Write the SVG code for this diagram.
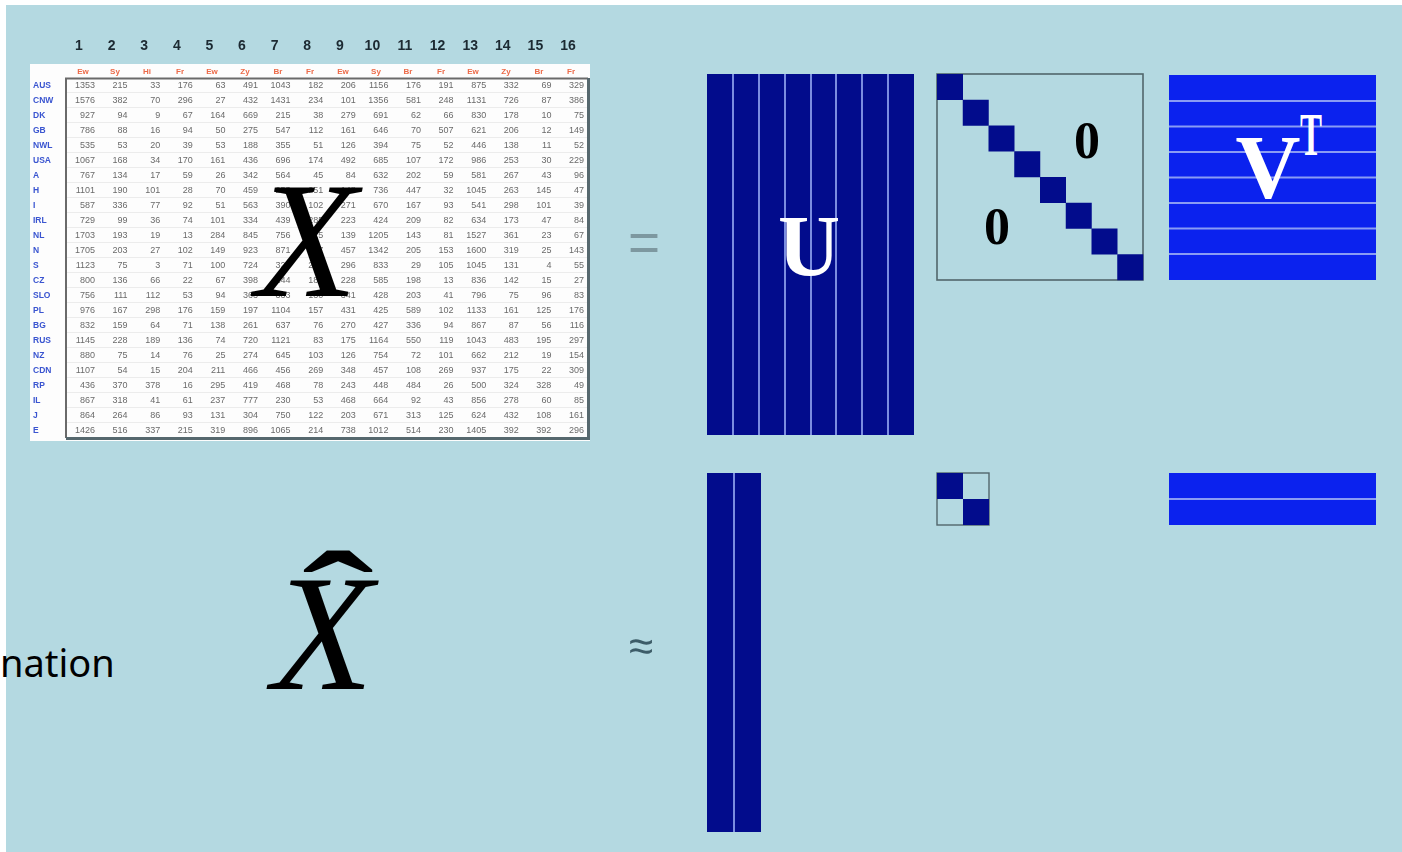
<svg xmlns="http://www.w3.org/2000/svg" width="1402" height="852" viewBox="0 0 1402 852">
<defs>
<filter id="soft" x="-5%" y="-5%" width="110%" height="110%"><feGaussianBlur stdDeviation="0.7"/></filter>
<filter id="soft2" x="-10%" y="-10%" width="120%" height="120%"><feGaussianBlur stdDeviation="0.7"/></filter>
</defs>
<style>
.d{font-family:"Liberation Sans",Arial,sans-serif;font-size:9px;fill:#6a6a6a;text-anchor:end}
.rl{font-family:"Liberation Sans",Arial,sans-serif;font-size:8.5px;font-weight:bold;fill:#3a55d0}
.hd{font-family:"Liberation Sans",Arial,sans-serif;font-size:8px;font-weight:bold;fill:#ec6a48;text-anchor:middle}
.cn{font-family:"Liberation Sans",Arial,sans-serif;font-size:14px;font-weight:bold;fill:#1c2a32;text-anchor:middle}
.big{font-family:"Liberation Serif","Times New Roman",serif;font-style:italic;font-size:166px;fill:#000}
.mat{font-family:"Liberation Serif","Times New Roman",serif;font-weight:bold;fill:#fff;text-anchor:middle}
.zero{font-family:"Liberation Serif","Times New Roman",serif;font-weight:bold;font-size:52px;fill:#000;text-anchor:middle}
.navy{fill:#020c8c}
.vblue{fill:#0b22ee}
.ul{stroke:#7b8de0;stroke-width:2}
.vl{stroke:#8a9cf4;stroke-width:2}
</style>
<rect x="0" y="0" width="1402" height="852" fill="#ffffff"/>
<rect x="6" y="5" width="1396" height="847" fill="#b4d9e1"/>

<g id="data-table">
<rect x="30" y="64" width="560" height="377" fill="#fdfdfd"/>
<g stroke="#ececec" stroke-width="1">
<line x1="66" y1="92.5" x2="587" y2="92.5"/><line x1="66" y1="107.5" x2="587" y2="107.5"/><line x1="66" y1="122.5" x2="587" y2="122.5"/><line x1="66" y1="137.5" x2="587" y2="137.5"/><line x1="66" y1="152.5" x2="587" y2="152.5"/><line x1="66" y1="167.5" x2="587" y2="167.5"/><line x1="66" y1="182.5" x2="587" y2="182.5"/><line x1="66" y1="197.5" x2="587" y2="197.5"/><line x1="66" y1="212.5" x2="587" y2="212.5"/><line x1="66" y1="227.5" x2="587" y2="227.5"/><line x1="66" y1="242.5" x2="587" y2="242.5"/><line x1="66" y1="257.5" x2="587" y2="257.5"/><line x1="66" y1="272.5" x2="587" y2="272.5"/><line x1="66" y1="287.5" x2="587" y2="287.5"/><line x1="66" y1="302.5" x2="587" y2="302.5"/><line x1="66" y1="317.5" x2="587" y2="317.5"/><line x1="66" y1="332.5" x2="587" y2="332.5"/><line x1="66" y1="347.5" x2="587" y2="347.5"/><line x1="66" y1="362.5" x2="587" y2="362.5"/><line x1="66" y1="377.5" x2="587" y2="377.5"/><line x1="66" y1="392.5" x2="587" y2="392.5"/><line x1="66" y1="407.5" x2="587" y2="407.5"/><line x1="66" y1="422.5" x2="587" y2="422.5"/>
</g>
<path d="M66 438 V78.5 H588" fill="none" stroke="#6a6a6a" stroke-width="2"/>
<path d="M588.5 78 V438.5 H66" fill="none" stroke="#56686e" stroke-width="3"/>
<g filter="url(#soft)">
<text class="cn" y="50"><tspan x="79">1</tspan><tspan x="111.6">2</tspan><tspan x="144.2">3</tspan><tspan x="176.8">4</tspan><tspan x="209.4">5</tspan><tspan x="242">6</tspan><tspan x="274.6">7</tspan><tspan x="307.2">8</tspan><tspan x="339.8">9</tspan><tspan x="372.4">10</tspan><tspan x="405">11</tspan><tspan x="437.6">12</tspan><tspan x="470.2">13</tspan><tspan x="502.8">14</tspan><tspan x="535.4">15</tspan><tspan x="568">16</tspan></text>
<text class="hd" y="74"><tspan x="83">Ew</tspan><tspan x="115">Sy</tspan><tspan x="147">Hi</tspan><tspan x="180">Fr</tspan><tspan x="212">Ew</tspan><tspan x="245">Zy</tspan><tspan x="278">Br</tspan><tspan x="310">Fr</tspan><tspan x="343">Ew</tspan><tspan x="376">Sy</tspan><tspan x="408">Br</tspan><tspan x="441">Fr</tspan><tspan x="473">Ew</tspan><tspan x="506">Zy</tspan><tspan x="539">Br</tspan><tspan x="571">Fr</tspan></text>
<text class="rl" x="33" y="88">AUS</text><text class="rl" x="33" y="103">CNW</text><text class="rl" x="33" y="118">DK</text><text class="rl" x="33" y="133">GB</text><text class="rl" x="33" y="148">NWL</text><text class="rl" x="33" y="163">USA</text><text class="rl" x="33" y="178">A</text><text class="rl" x="33" y="193">H</text><text class="rl" x="33" y="208">I</text><text class="rl" x="33" y="223">IRL</text><text class="rl" x="33" y="238">NL</text><text class="rl" x="33" y="253">N</text><text class="rl" x="33" y="268">S</text><text class="rl" x="33" y="283">CZ</text><text class="rl" x="33" y="298">SLO</text><text class="rl" x="33" y="313">PL</text><text class="rl" x="33" y="328">BG</text><text class="rl" x="33" y="343">RUS</text><text class="rl" x="33" y="358">NZ</text><text class="rl" x="33" y="373">CDN</text><text class="rl" x="33" y="388">RP</text><text class="rl" x="33" y="403">IL</text><text class="rl" x="33" y="418">J</text><text class="rl" x="33" y="433">E</text>
<text class="d" y="88.3"><tspan x="95">1353</tspan><tspan x="127.6">215</tspan><tspan x="160.2">33</tspan><tspan x="192.8">176</tspan><tspan x="225.4">63</tspan><tspan x="258">491</tspan><tspan x="290.6">1043</tspan><tspan x="323.2">182</tspan><tspan x="355.8">206</tspan><tspan x="388.4">1156</tspan><tspan x="421">176</tspan><tspan x="453.6">191</tspan><tspan x="486.2">875</tspan><tspan x="518.8">332</tspan><tspan x="551.4">69</tspan><tspan x="584">329</tspan></text>
<text class="d" y="103.3"><tspan x="95">1576</tspan><tspan x="127.6">382</tspan><tspan x="160.2">70</tspan><tspan x="192.8">296</tspan><tspan x="225.4">27</tspan><tspan x="258">432</tspan><tspan x="290.6">1431</tspan><tspan x="323.2">234</tspan><tspan x="355.8">101</tspan><tspan x="388.4">1356</tspan><tspan x="421">581</tspan><tspan x="453.6">248</tspan><tspan x="486.2">1131</tspan><tspan x="518.8">726</tspan><tspan x="551.4">87</tspan><tspan x="584">386</tspan></text>
<text class="d" y="118.3"><tspan x="95">927</tspan><tspan x="127.6">94</tspan><tspan x="160.2">9</tspan><tspan x="192.8">67</tspan><tspan x="225.4">164</tspan><tspan x="258">669</tspan><tspan x="290.6">215</tspan><tspan x="323.2">38</tspan><tspan x="355.8">279</tspan><tspan x="388.4">691</tspan><tspan x="421">62</tspan><tspan x="453.6">66</tspan><tspan x="486.2">830</tspan><tspan x="518.8">178</tspan><tspan x="551.4">10</tspan><tspan x="584">75</tspan></text>
<text class="d" y="133.3"><tspan x="95">786</tspan><tspan x="127.6">88</tspan><tspan x="160.2">16</tspan><tspan x="192.8">94</tspan><tspan x="225.4">50</tspan><tspan x="258">275</tspan><tspan x="290.6">547</tspan><tspan x="323.2">112</tspan><tspan x="355.8">161</tspan><tspan x="388.4">646</tspan><tspan x="421">70</tspan><tspan x="453.6">507</tspan><tspan x="486.2">621</tspan><tspan x="518.8">206</tspan><tspan x="551.4">12</tspan><tspan x="584">149</tspan></text>
<text class="d" y="148.3"><tspan x="95">535</tspan><tspan x="127.6">53</tspan><tspan x="160.2">20</tspan><tspan x="192.8">39</tspan><tspan x="225.4">53</tspan><tspan x="258">188</tspan><tspan x="290.6">355</tspan><tspan x="323.2">51</tspan><tspan x="355.8">126</tspan><tspan x="388.4">394</tspan><tspan x="421">75</tspan><tspan x="453.6">52</tspan><tspan x="486.2">446</tspan><tspan x="518.8">138</tspan><tspan x="551.4">11</tspan><tspan x="584">52</tspan></text>
<text class="d" y="163.3"><tspan x="95">1067</tspan><tspan x="127.6">168</tspan><tspan x="160.2">34</tspan><tspan x="192.8">170</tspan><tspan x="225.4">161</tspan><tspan x="258">436</tspan><tspan x="290.6">696</tspan><tspan x="323.2">174</tspan><tspan x="355.8">492</tspan><tspan x="388.4">685</tspan><tspan x="421">107</tspan><tspan x="453.6">172</tspan><tspan x="486.2">986</tspan><tspan x="518.8">253</tspan><tspan x="551.4">30</tspan><tspan x="584">229</tspan></text>
<text class="d" y="178.3"><tspan x="95">767</tspan><tspan x="127.6">134</tspan><tspan x="160.2">17</tspan><tspan x="192.8">59</tspan><tspan x="225.4">26</tspan><tspan x="258">342</tspan><tspan x="290.6">564</tspan><tspan x="323.2">45</tspan><tspan x="355.8">84</tspan><tspan x="388.4">632</tspan><tspan x="421">202</tspan><tspan x="453.6">59</tspan><tspan x="486.2">581</tspan><tspan x="518.8">267</tspan><tspan x="551.4">43</tspan><tspan x="584">96</tspan></text>
<text class="d" y="193.3"><tspan x="95">1101</tspan><tspan x="127.6">190</tspan><tspan x="160.2">101</tspan><tspan x="192.8">28</tspan><tspan x="225.4">70</tspan><tspan x="258">459</tspan><tspan x="290.6">253</tspan><tspan x="323.2">251</tspan><tspan x="355.8">148</tspan><tspan x="388.4">736</tspan><tspan x="421">447</tspan><tspan x="453.6">32</tspan><tspan x="486.2">1045</tspan><tspan x="518.8">263</tspan><tspan x="551.4">145</tspan><tspan x="584">47</tspan></text>
<text class="d" y="208.3"><tspan x="95">587</tspan><tspan x="127.6">336</tspan><tspan x="160.2">77</tspan><tspan x="192.8">92</tspan><tspan x="225.4">51</tspan><tspan x="258">563</tspan><tspan x="290.6">390</tspan><tspan x="323.2">102</tspan><tspan x="355.8">271</tspan><tspan x="388.4">670</tspan><tspan x="421">167</tspan><tspan x="453.6">93</tspan><tspan x="486.2">541</tspan><tspan x="518.8">298</tspan><tspan x="551.4">101</tspan><tspan x="584">39</tspan></text>
<text class="d" y="223.3"><tspan x="95">729</tspan><tspan x="127.6">99</tspan><tspan x="160.2">36</tspan><tspan x="192.8">74</tspan><tspan x="225.4">101</tspan><tspan x="258">334</tspan><tspan x="290.6">439</tspan><tspan x="323.2">285</tspan><tspan x="355.8">223</tspan><tspan x="388.4">424</tspan><tspan x="421">209</tspan><tspan x="453.6">82</tspan><tspan x="486.2">634</tspan><tspan x="518.8">173</tspan><tspan x="551.4">47</tspan><tspan x="584">84</tspan></text>
<text class="d" y="238.3"><tspan x="95">1703</tspan><tspan x="127.6">193</tspan><tspan x="160.2">19</tspan><tspan x="192.8">13</tspan><tspan x="225.4">284</tspan><tspan x="258">845</tspan><tspan x="290.6">756</tspan><tspan x="323.2">325</tspan><tspan x="355.8">139</tspan><tspan x="388.4">1205</tspan><tspan x="421">143</tspan><tspan x="453.6">81</tspan><tspan x="486.2">1527</tspan><tspan x="518.8">361</tspan><tspan x="551.4">23</tspan><tspan x="584">67</tspan></text>
<text class="d" y="253.3"><tspan x="95">1705</tspan><tspan x="127.6">203</tspan><tspan x="160.2">27</tspan><tspan x="192.8">102</tspan><tspan x="225.4">149</tspan><tspan x="258">923</tspan><tspan x="290.6">871</tspan><tspan x="323.2">397</tspan><tspan x="355.8">457</tspan><tspan x="388.4">1342</tspan><tspan x="421">205</tspan><tspan x="453.6">153</tspan><tspan x="486.2">1600</tspan><tspan x="518.8">319</tspan><tspan x="551.4">25</tspan><tspan x="584">143</tspan></text>
<text class="d" y="268.3"><tspan x="95">1123</tspan><tspan x="127.6">75</tspan><tspan x="160.2">3</tspan><tspan x="192.8">71</tspan><tspan x="225.4">100</tspan><tspan x="258">724</tspan><tspan x="290.6">321</tspan><tspan x="323.2">226</tspan><tspan x="355.8">296</tspan><tspan x="388.4">833</tspan><tspan x="421">29</tspan><tspan x="453.6">105</tspan><tspan x="486.2">1045</tspan><tspan x="518.8">131</tspan><tspan x="551.4">4</tspan><tspan x="584">55</tspan></text>
<text class="d" y="283.3"><tspan x="95">800</tspan><tspan x="127.6">136</tspan><tspan x="160.2">66</tspan><tspan x="192.8">22</tspan><tspan x="225.4">67</tspan><tspan x="258">398</tspan><tspan x="290.6">244</tspan><tspan x="323.2">180</tspan><tspan x="355.8">228</tspan><tspan x="388.4">585</tspan><tspan x="421">198</tspan><tspan x="453.6">13</tspan><tspan x="486.2">836</tspan><tspan x="518.8">142</tspan><tspan x="551.4">15</tspan><tspan x="584">27</tspan></text>
<text class="d" y="298.3"><tspan x="95">756</tspan><tspan x="127.6">111</tspan><tspan x="160.2">112</tspan><tspan x="192.8">53</tspan><tspan x="225.4">94</tspan><tspan x="258">363</tspan><tspan x="290.6">333</tspan><tspan x="323.2">130</tspan><tspan x="355.8">341</tspan><tspan x="388.4">428</tspan><tspan x="421">203</tspan><tspan x="453.6">41</tspan><tspan x="486.2">796</tspan><tspan x="518.8">75</tspan><tspan x="551.4">96</tspan><tspan x="584">83</tspan></text>
<text class="d" y="313.3"><tspan x="95">976</tspan><tspan x="127.6">167</tspan><tspan x="160.2">298</tspan><tspan x="192.8">176</tspan><tspan x="225.4">159</tspan><tspan x="258">197</tspan><tspan x="290.6">1104</tspan><tspan x="323.2">157</tspan><tspan x="355.8">431</tspan><tspan x="388.4">425</tspan><tspan x="421">589</tspan><tspan x="453.6">102</tspan><tspan x="486.2">1133</tspan><tspan x="518.8">161</tspan><tspan x="551.4">125</tspan><tspan x="584">176</tspan></text>
<text class="d" y="328.3"><tspan x="95">832</tspan><tspan x="127.6">159</tspan><tspan x="160.2">64</tspan><tspan x="192.8">71</tspan><tspan x="225.4">138</tspan><tspan x="258">261</tspan><tspan x="290.6">637</tspan><tspan x="323.2">76</tspan><tspan x="355.8">270</tspan><tspan x="388.4">427</tspan><tspan x="421">336</tspan><tspan x="453.6">94</tspan><tspan x="486.2">867</tspan><tspan x="518.8">87</tspan><tspan x="551.4">56</tspan><tspan x="584">116</tspan></text>
<text class="d" y="343.3"><tspan x="95">1145</tspan><tspan x="127.6">228</tspan><tspan x="160.2">189</tspan><tspan x="192.8">136</tspan><tspan x="225.4">74</tspan><tspan x="258">720</tspan><tspan x="290.6">1121</tspan><tspan x="323.2">83</tspan><tspan x="355.8">175</tspan><tspan x="388.4">1164</tspan><tspan x="421">550</tspan><tspan x="453.6">119</tspan><tspan x="486.2">1043</tspan><tspan x="518.8">483</tspan><tspan x="551.4">195</tspan><tspan x="584">297</tspan></text>
<text class="d" y="358.3"><tspan x="95">880</tspan><tspan x="127.6">75</tspan><tspan x="160.2">14</tspan><tspan x="192.8">76</tspan><tspan x="225.4">25</tspan><tspan x="258">274</tspan><tspan x="290.6">645</tspan><tspan x="323.2">103</tspan><tspan x="355.8">126</tspan><tspan x="388.4">754</tspan><tspan x="421">72</tspan><tspan x="453.6">101</tspan><tspan x="486.2">662</tspan><tspan x="518.8">212</tspan><tspan x="551.4">19</tspan><tspan x="584">154</tspan></text>
<text class="d" y="373.3"><tspan x="95">1107</tspan><tspan x="127.6">54</tspan><tspan x="160.2">15</tspan><tspan x="192.8">204</tspan><tspan x="225.4">211</tspan><tspan x="258">466</tspan><tspan x="290.6">456</tspan><tspan x="323.2">269</tspan><tspan x="355.8">348</tspan><tspan x="388.4">457</tspan><tspan x="421">108</tspan><tspan x="453.6">269</tspan><tspan x="486.2">937</tspan><tspan x="518.8">175</tspan><tspan x="551.4">22</tspan><tspan x="584">309</tspan></text>
<text class="d" y="388.3"><tspan x="95">436</tspan><tspan x="127.6">370</tspan><tspan x="160.2">378</tspan><tspan x="192.8">16</tspan><tspan x="225.4">295</tspan><tspan x="258">419</tspan><tspan x="290.6">468</tspan><tspan x="323.2">78</tspan><tspan x="355.8">243</tspan><tspan x="388.4">448</tspan><tspan x="421">484</tspan><tspan x="453.6">26</tspan><tspan x="486.2">500</tspan><tspan x="518.8">324</tspan><tspan x="551.4">328</tspan><tspan x="584">49</tspan></text>
<text class="d" y="403.3"><tspan x="95">867</tspan><tspan x="127.6">318</tspan><tspan x="160.2">41</tspan><tspan x="192.8">61</tspan><tspan x="225.4">237</tspan><tspan x="258">777</tspan><tspan x="290.6">230</tspan><tspan x="323.2">53</tspan><tspan x="355.8">468</tspan><tspan x="388.4">664</tspan><tspan x="421">92</tspan><tspan x="453.6">43</tspan><tspan x="486.2">856</tspan><tspan x="518.8">278</tspan><tspan x="551.4">60</tspan><tspan x="584">85</tspan></text>
<text class="d" y="418.3"><tspan x="95">864</tspan><tspan x="127.6">264</tspan><tspan x="160.2">86</tspan><tspan x="192.8">93</tspan><tspan x="225.4">131</tspan><tspan x="258">304</tspan><tspan x="290.6">750</tspan><tspan x="323.2">122</tspan><tspan x="355.8">203</tspan><tspan x="388.4">671</tspan><tspan x="421">313</tspan><tspan x="453.6">125</tspan><tspan x="486.2">624</tspan><tspan x="518.8">432</tspan><tspan x="551.4">108</tspan><tspan x="584">161</tspan></text>
<text class="d" y="433.3"><tspan x="95">1426</tspan><tspan x="127.6">516</tspan><tspan x="160.2">337</tspan><tspan x="192.8">215</tspan><tspan x="225.4">319</tspan><tspan x="258">896</tspan><tspan x="290.6">1065</tspan><tspan x="323.2">214</tspan><tspan x="355.8">738</tspan><tspan x="388.4">1012</tspan><tspan x="421">514</tspan><tspan x="453.6">230</tspan><tspan x="486.2">1405</tspan><tspan x="518.8">392</tspan><tspan x="551.4">392</tspan><tspan x="584">296</tspan></text>
</g>
</g>

<g id="label-X">
<text class="big" x="256" y="296">X</text>
</g>

<g id="equals">
<text x="644" y="261" font-family="'Liberation Sans',Arial,sans-serif" font-size="55" fill="#7d98a0" text-anchor="middle" filter="url(#soft2)">=</text>
</g>

<g id="matrix-U">
<rect class="navy" x="707" y="74" width="207" height="361"/>
<g class="ul"><line x1="733" y1="74" x2="733" y2="435"/><line x1="759" y1="74" x2="759" y2="435"/><line x1="785" y1="74" x2="785" y2="435"/><line x1="811" y1="74" x2="811" y2="435"/><line x1="836" y1="74" x2="836" y2="435"/><line x1="862" y1="74" x2="862" y2="435"/><line x1="888" y1="74" x2="888" y2="435"/></g>
<text class="mat" x="809" y="275" font-size="86">U</text>
</g>

<g id="matrix-Sigma">
<rect x="937" y="74" width="206" height="206" fill="none" stroke="#52666c" stroke-width="1.6"/>
<g class="navy"><rect x="937" y="74" width="26" height="26"/><rect x="962.75" y="99.75" width="26" height="26"/><rect x="988.5" y="125.5" width="26" height="26"/><rect x="1014.25" y="151.25" width="26" height="26"/><rect x="1040" y="177" width="26" height="26"/><rect x="1065.75" y="202.75" width="26" height="26"/><rect x="1091.5" y="228.5" width="26" height="26"/><rect x="1117.25" y="254.25" width="26" height="26"/></g>
<text class="zero" x="1087" y="158">0</text>
<text class="zero" x="997" y="244">0</text>
</g>

<g id="matrix-VT">
<rect class="vblue" x="1169" y="75" width="207" height="205"/>
<g class="vl"><line x1="1169" y1="101" x2="1376" y2="101"/><line x1="1169" y1="126.5" x2="1376" y2="126.5"/><line x1="1169" y1="152" x2="1376" y2="152"/><line x1="1169" y1="177.5" x2="1376" y2="177.5"/><line x1="1169" y1="203" x2="1376" y2="203"/><line x1="1169" y1="228.5" x2="1376" y2="228.5"/><line x1="1169" y1="254" x2="1376" y2="254"/></g>
<text class="mat" x="1268" y="198" font-size="90">V</text>
<text x="1300" y="155" font-family="'Liberation Serif','Times New Roman',serif" font-weight="bold" font-size="62" fill="#fff" textLength="22" lengthAdjust="spacingAndGlyphs">T</text>
</g>

<g id="matrix-Uk">
<rect class="navy" x="707" y="473" width="54" height="359"/>
<line class="ul" x1="734" y1="473" x2="734" y2="832"/>
</g>

<g id="matrix-Sigmak">
<rect x="937" y="473" width="52" height="52" fill="none" stroke="#52666c" stroke-width="1.4"/>
<rect class="navy" x="937" y="473" width="26" height="26"/>
<rect class="navy" x="963" y="499" width="26" height="26"/>
</g>

<g id="matrix-Vk">
<rect class="vblue" x="1169" y="473" width="207" height="52"/>
<line class="vl" x1="1169" y1="499" x2="1376" y2="499"/>
</g>

<g id="approx">
<text x="641" y="661" font-family="'Liberation Sans',Arial,sans-serif" font-size="44" fill="#3d5c68" text-anchor="middle" filter="url(#soft2)">≈</text>
</g>

<g id="label-Xhat">
<text class="big" x="272" y="689">X</text>
<text transform="translate(338,646) scale(1.2,0.75)" font-family="'Liberation Serif','Times New Roman',serif" font-weight="bold" font-size="180" fill="#000" text-anchor="middle">ˆ</text>
</g>

<g id="caption-fragment">
<text x="0" y="677" font-family="'Noto Sans','Open Sans',sans-serif" font-size="38" fill="#000">nation</text>
</g>
</svg>
